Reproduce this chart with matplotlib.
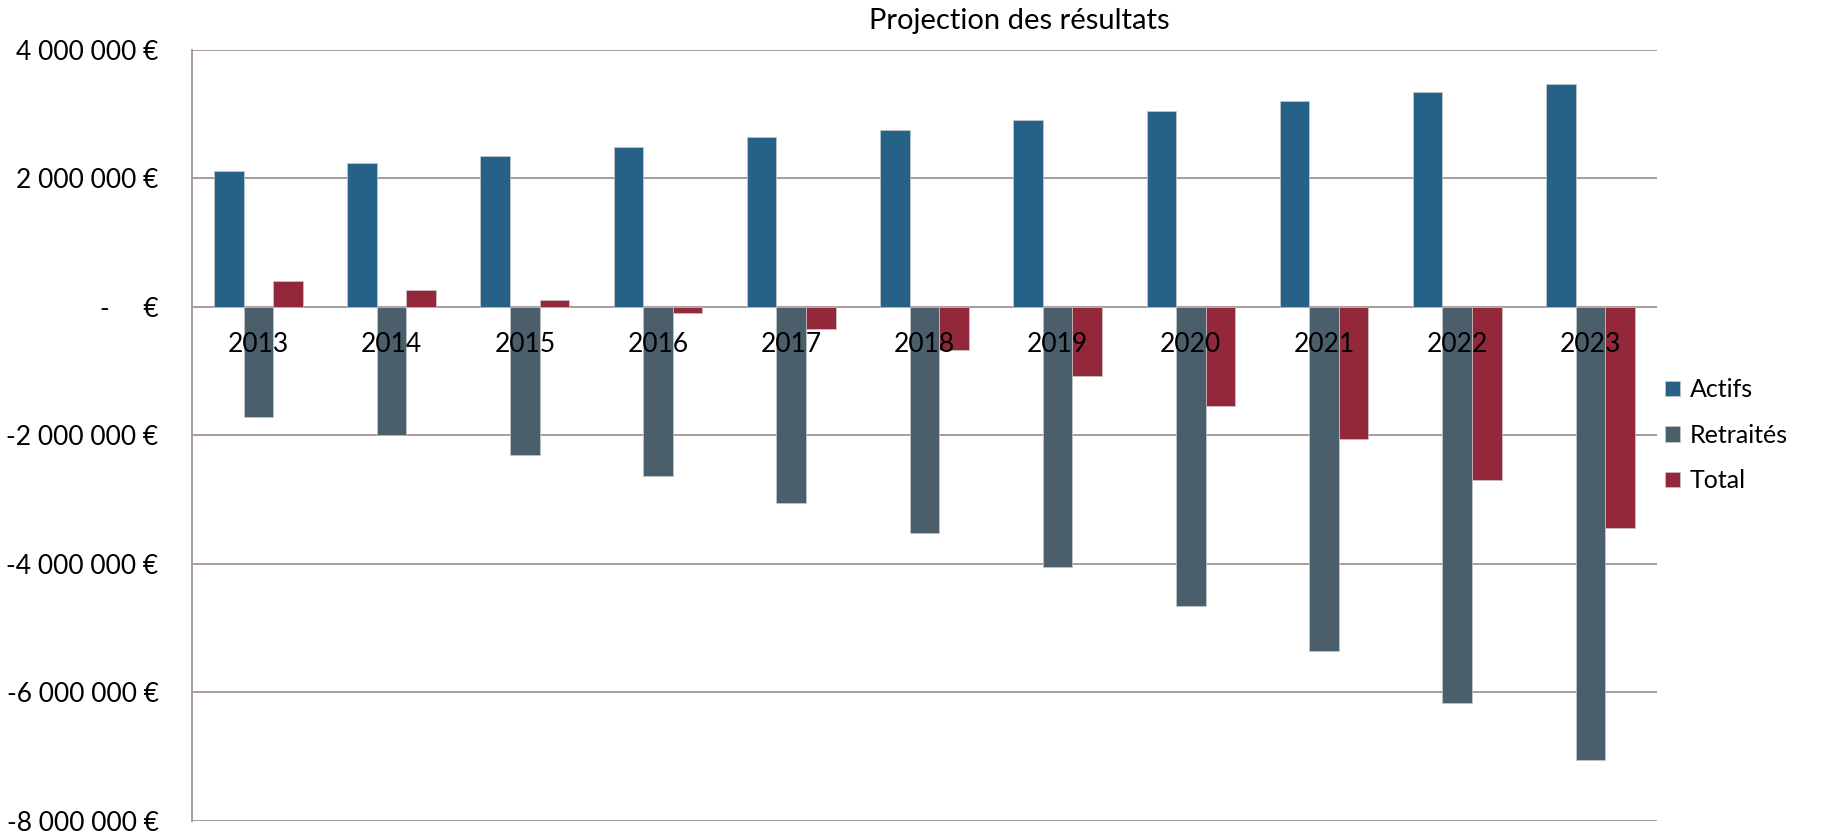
import matplotlib
matplotlib.use("Agg")
import numpy as np
import matplotlib.pyplot as plt
from matplotlib.ticker import FuncFormatter

plt.rcParams['font.family'] = ['Lato', 'DejaVu Sans']

years = ['2013', '2014', '2015', '2016', '2017', '2018', '2019', '2020', '2021', '2022', '2023']
actifs = [2114000, 2234000, 2348000, 2484000, 2640000, 2755000, 2910000, 3047000, 3200000, 3353000, 3470000]
retraites = [-1720000, -2000000, -2300000, -2640000, -3050000, -3520000, -4050000, -4650000, -5360000, -6170000, -7060000]
total = [406000, 270000, 114000, -100000, -350000, -678000, -1078000, -1547000, -2060000, -2700000, -3450000]
series_names = ['Actifs', 'Retraités', 'Total']
colors = ['#266287', '#4A5E6B', '#93283A']
yticks = [-8000000, -6000000, -4000000, -2000000, 0, 2000000, 4000000]

fig = plt.figure(figsize=(18.27, 8.34), dpi=100)
ax = fig.add_axes([0.105, 0.016, 0.802, 0.924])

x = np.arange(len(years))
w = 0.222
for k, (vals, name) in enumerate(zip([actifs, retraites, total], series_names)):
    ax.bar(x + (k - 1) * w, vals, width=w, color=colors[k], label=name,
           edgecolor='#C8C8C8', linewidth=0.5, zorder=3)

ax.set_xlim(-0.5, len(years) - 0.5)
ax.set_ylim(-8000000, 4000000)
ax.set_yticks(yticks)

def fmt(v, pos):
    if v == 0:
        return '-     €'
    s = f'{int(abs(v)):,}'.replace(',', ' ')
    return ('-' if v < 0 else '') + s + ' €'

ax.yaxis.set_major_formatter(FuncFormatter(fmt))
ax.tick_params(axis='y', length=0, pad=24, labelsize=19)
ax.set_xticks([])
ax.set_axisbelow(True)
ax.grid(axis='y', color='#A99A9C', linewidth=1.4)
for s in ['top', 'right', 'bottom']:
    ax.spines[s].set_visible(False)
ax.spines['left'].set_color('#A99A9C')
ax.spines['left'].set_linewidth(1.4)

for i, yr in enumerate(years):
    ax.annotate(yr, (x[i], 0), xytext=(0, -18), textcoords='offset points',
                ha='center', va='top', fontsize=19, zorder=5)

fig.text(0.558, 0.975, 'Projection des résultats', ha='center', va='center', fontsize=21)

fig.legend(loc='center left', bbox_to_anchor=(0.899, 0.478), frameon=False,
           fontsize=18, handlelength=0.6, handleheight=0.6, handletextpad=0.4,
           labelspacing=0.9)

fig.savefig('out.png', dpi=100)
